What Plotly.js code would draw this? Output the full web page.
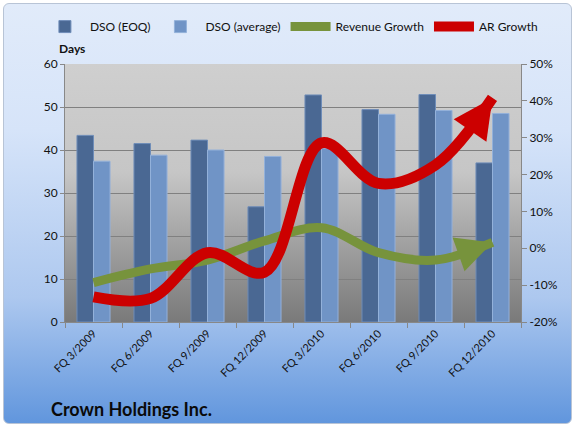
<!DOCTYPE html>
<html>
<head>
<meta charset="utf-8">
<script src="https://cdn.plot.ly/plotly-3.0.1.min.js"></script>
<style>
  html, body { margin: 0; padding: 0; background: #ffffff; }
  #wrap { position: absolute; left: 0; top: 0; width: 575px; height: 427px; }
  #bg { position: absolute; left: 3px; top: 3px; width: 567px; height: 419px;
        border: 1px solid #b8c4d6; border-radius: 6px;
        background: linear-gradient(to bottom, #e1ebfa 0%, #d6e4f9 30%, #adc8ef 70%, #6196dd 100%); }
  #chart { position: absolute; left: 0; top: 0; width: 575px; height: 427px; }
</style>
</head>
<body>
<div id="wrap">
  <div id="bg"></div>
  <div id="chart"></div>
</div>
<script>
// ---- data ----
const categories = ["FQ 3/2009", "FQ 6/2009", "FQ 9/2009", "FQ 12/2009", "FQ 3/2010", "FQ 6/2010", "FQ 9/2010", "FQ 12/2010"];
const dsoEOQ = [43.4, 41.5, 42.3, 26.8, 52.8, 49.4, 52.9, 37.0];
const dsoAverage = [37.4, 38.8, 40.0, 38.5, 40.4, 48.3, 49.2, 48.5];
const revenueGrowth = [-9.3, -5.6, -3.2, 2.0, 5.6, -1.2, -3.2, 1.6];
const arGrowth = [-13.2, -13.6, -1.2, -6.5, 28.6, 17.6, 22.6, 40.8];
const leftTicks = [0, 10, 20, 30, 40, 50, 60];
const rightTicks = [-20, -10, 0, 10, 20, 30, 40, 50];

const FONT = "Lato, 'Open Sans', 'DejaVu Sans', sans-serif";
const n = categories.length;

const gradSvg = '<svg xmlns="http://www.w3.org/2000/svg" width="100" height="100" preserveAspectRatio="none">' +
  '<defs><linearGradient id="g" x1="0" y1="0" x2="0" y2="1">' +
  '<stop offset="0" stop-color="#cfcfcf"/><stop offset="0.42" stop-color="#c6c6c6"/>' +
  '<stop offset="0.75" stop-color="#9a9a9a"/><stop offset="1" stop-color="#7a7a7a"/>' +
  '</linearGradient></defs><rect width="100" height="100" fill="url(#g)"/></svg>';
const gradUri = 'data:image/svg+xml;charset=utf-8,' + encodeURIComponent(gradSvg);

const traces = [
  {
    type: 'bar', name: 'DSO (EOQ)', x: categories, y: dsoEOQ,
    marker: { color: '#4a6893', line: { color: '#6f8db8', width: 1 } },
    hoverinfo: 'skip'
  },
  {
    type: 'bar', name: 'DSO (average)', x: categories, y: dsoAverage,
    marker: { color: '#7094c6', line: { color: '#93b1da', width: 1 } },
    hoverinfo: 'skip'
  },
  {
    type: 'scatter', mode: 'lines', name: 'Revenue Growth', x: categories, y: revenueGrowth,
    yaxis: 'y2', line: { color: '#77933c', width: 9, shape: 'spline', smoothing: 1 },
    hoverinfo: 'skip'
  },
  {
    type: 'scatter', mode: 'lines', name: 'AR Growth', x: categories, y: arGrowth,
    yaxis: 'y2', line: { color: '#cc0000', width: 11, shape: 'spline', smoothing: 1 },
    hoverinfo: 'skip'
  }
];

// arrowheads at the end of each growth line (tip at the last data point)
function endArrow(values, color, width, size, ax, ay) {
  return {
    x: categories[n - 1], y: values[n - 1], xref: 'x', yref: 'y2',
    text: '', showarrow: true, arrowhead: 2, arrowsize: size, arrowwidth: width,
    arrowcolor: color, ax: ax, ay: ay, standoff: 0
  };
}

const layout = {
  width: 575, height: 427,
  margin: { l: 65, r: 54, t: 62, b: 105, pad: 0 },
  paper_bgcolor: 'rgba(0,0,0,0)',
  plot_bgcolor: 'rgba(0,0,0,0)',
  font: { family: FONT, size: 12, color: '#111111' },
  barmode: 'group', bargap: 0.42, bargroupgap: 0,
  showlegend: true,
  legend: {
    orientation: 'h', x: -0.055, xanchor: 'left', y: 1.145, yanchor: 'middle',
    font: { family: FONT, size: 12, color: '#111111' }, bgcolor: 'rgba(0,0,0,0)',
    traceorder: 'normal', itemwidth: 40
  },
  title: {
    text: '<b>Crown Holdings Inc.</b>',
    font: { family: FONT, size: 18, color: '#0a0a0a' },
    xref: 'container', x: 51 / 575, xanchor: 'left',
    yref: 'container', y: 1 - 410 / 427, yanchor: 'middle'
  },
  xaxis: {
    type: 'category', tickangle: -45, tickson: 'boundaries',
    ticks: 'outside', ticklen: 5, tickcolor: '#888888',
    showline: true, linecolor: '#888888', linewidth: 1,
    showgrid: false, tickfont: { family: FONT, size: 11, color: '#111111' }
  },
  yaxis: {
    range: [0, 60], tickvals: leftTicks, ticktext: leftTicks.map(String),
    ticks: 'outside', ticklen: 4, tickcolor: '#888888',
    showline: true, linecolor: '#888888', linewidth: 1,
    showgrid: true, gridcolor: '#808080', gridwidth: 1, zeroline: false,
    tickfont: { family: FONT, size: 12, color: '#111111' }
  },
  yaxis2: {
    overlaying: 'y', side: 'right', range: [-20, 50],
    tickvals: rightTicks, ticktext: rightTicks.map(v => v + '%'),
    ticks: 'outside', ticklen: 5, tickcolor: '#888888',
    showline: true, linecolor: '#888888', linewidth: 1,
    showgrid: false, zeroline: false,
    tickfont: { family: FONT, size: 12, color: '#111111' }
  },
  images: [{
    source: gradUri, xref: 'paper', yref: 'paper', x: 0, y: 1, sizex: 1, sizey: 1,
    sizing: 'stretch', layer: 'below', xanchor: 'left', yanchor: 'top'
  }],
  annotations: [
    {
      text: '<b>Days</b>', xref: 'paper', yref: 'paper', x: -0.018, y: 1.062,
      xanchor: 'left', yanchor: 'middle', showarrow: false,
      font: { family: FONT, size: 12, color: '#111111' }
    },
    endArrow(revenueGrowth, '#77933c', 9, 0.8, -34, 12),
    endArrow(arGrowth, '#cc0000', 11, 0.72, -22, 32)
  ]
};

Plotly.newPlot('chart', traces, layout, { staticPlot: true, displayModeBar: false });
</script>
</body>
</html>
